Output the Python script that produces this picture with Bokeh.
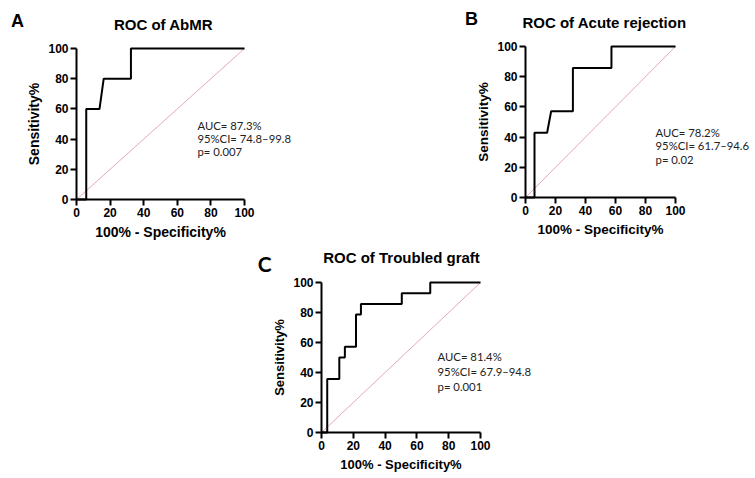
from bokeh.plotting import figure
from bokeh.models import Range1d, FixedTicker, Label, LabelSet, ColumnDataSource, Spacer, LinearAxis
from bokeh.core.properties import value
from bokeh.layouts import column, row
from bokeh.embed import file_html
from bokeh.resources import INLINE

# ---------------- data ----------------
ticks = [0, 20, 40, 60, 80, 100]
ref_x = [0, 100]
ref_y = [0, 100]

A_fpr = [0, 5.8, 5.8, 13.7, 16.2, 32.4, 32.4, 100]
A_tpr = [0, 0, 60, 60, 80, 80, 100, 100]
A_title = "ROC of AbMR"
A_stats = ["AUC= 87.3%", "95%CI= 74.8\u201399.8", "p= 0.007"]

B_fpr = [0, 6.0, 6.0, 14.4, 17.1, 31.6, 31.6, 57.3, 57.3, 100]
B_tpr = [0, 0, 42.9, 42.9, 57.1, 57.1, 85.7, 85.7, 100, 100]
B_title = "ROC of Acute rejection"
B_stats = ["AUC= 78.2%", "95%CI= 61.7\u201394.6", "p= 0.02"]

C_fpr = [0, 3.6, 3.6, 11.2, 11.2, 14.7, 14.7, 21.7, 21.7, 24.8, 24.8, 50.5, 50.5, 68.4, 68.4, 100]
C_tpr = [0, 0, 35.7, 35.7, 50, 50, 57.1, 57.1, 78.6, 78.6, 85.7, 85.7, 92.9, 92.9, 100, 100]
C_title = "ROC of Troubled graft"
C_stats = ["AUC= 81.4%", "95%CI= 67.9\u201394.8", "p= 0.001"]

x_label = "100% - Specificity%"
y_label = "Sensitivity%"

AXFONT = "Liberation Sans"


def panel(width, height, ox, oy, sx, sy, fpr, tpr, letter, title, stats,
          letter_xy, title_xy, stats_x, stats_y, letter_font, letter_size, xlab_size):
    # ox, oy: pixel position of data (0, 0) inside the canvas; sx, sy: px per unit
    xr = Range1d(-ox / sx, (width - ox) / sx)
    yr = Range1d((oy - height) / sy, oy / sy)
    p = figure(width=width, height=height, output_backend="svg", toolbar_location=None,
               x_range=xr, y_range=yr, x_axis_location=None, y_axis_location=None,
               min_border=0, min_border_left=0, min_border_right=0,
               min_border_top=0, min_border_bottom=0)
    p.outline_line_color = None
    p.grid.visible = False
    p.background_fill_color = "white"
    p.border_fill_color = "white"

    xa = LinearAxis(fixed_location=0)
    ya = LinearAxis(fixed_location=0)
    for ax in (xa, ya):
        ax.ticker = FixedTicker(ticks=ticks)
        ax.bounds = (0, 100)
        ax.axis_line_width = 2
        ax.axis_line_color = "black"
        ax.major_tick_line_width = 2
        ax.major_tick_line_color = "black"
        ax.major_tick_in = 0
        ax.major_tick_out = 6
        ax.minor_tick_line_color = None
        ax.major_label_text_font = AXFONT
        ax.major_label_text_font_style = "bold"
        ax.major_label_text_font_size = "12px"
        ax.major_label_text_color = "black"
        ax.major_label_standoff = 2
        ax.axis_label_text_font = AXFONT
        ax.axis_label_text_font_style = "bold"
        ax.axis_label_text_font_size = xlab_size
        ax.axis_label_text_color = "black"
    xa.axis_label = x_label
    xa.axis_label_standoff = 4
    ya.axis_label = y_label
    ya.axis_label_standoff = 3
    p.add_layout(xa, "below")
    p.add_layout(ya, "left")

    p.line(ref_x, ref_y, line_color="#e7a9b6", line_width=1)
    p.line(fpr, tpr, line_color="black", line_width=2)

    p.add_layout(Label(x=letter_xy[0], y=letter_xy[1], text=letter, text_font=letter_font,
                       text_font_style="bold", text_font_size=letter_size, text_color="black",
                       text_align="center", text_baseline="middle"))
    p.add_layout(Label(x=title_xy[0], y=title_xy[1], text=title, text_font=AXFONT,
                       text_font_style="bold", text_font_size="15px", text_color="black",
                       text_align="center", text_baseline="middle"))
    src = ColumnDataSource(dict(x=[stats_x] * len(stats), y=stats_y, t=stats))
    p.add_layout(LabelSet(x="x", y="y", text="t", source=src, text_font=value("Lato"),
                          text_font_size="11.3px", text_color="#222222",
                          text_align="left", text_baseline="middle"))
    return p


# canvas positions are in screenshot pixels (layout starts at the top-left corner)
pA = panel(385, 245, 76, 199, 1.68, 1.51, A_fpr, A_tpr, "A", A_title, A_stats,
           (-35.1, 117.9), (51.8, 115.9), 72, [49, 40.4, 31.8], AXFONT, "18px", "14px")
pB = panel(370, 245, 140, 197, 1.5, 1.51, B_fpr, B_tpr, "B", B_title, B_stats,
           (-36, 118.5), (52.7, 115.9), 86.7, [43, 34.4, 25.2], AXFONT, "18px", "13.5px")
pC = panel(360, 230, 111, 187, 1.59, 1.5, C_fpr, C_tpr, "C", C_title, C_stats,
           (-35.8, 112.7), (50.3, 116.7), 73, [50.7, 40.7, 30.7], "Lato", "21px", "13px")

layout = column(row(pA, pB), row(Spacer(width=210, height=230), pC))

open("out.html", "w").write(file_html(layout, INLINE))
